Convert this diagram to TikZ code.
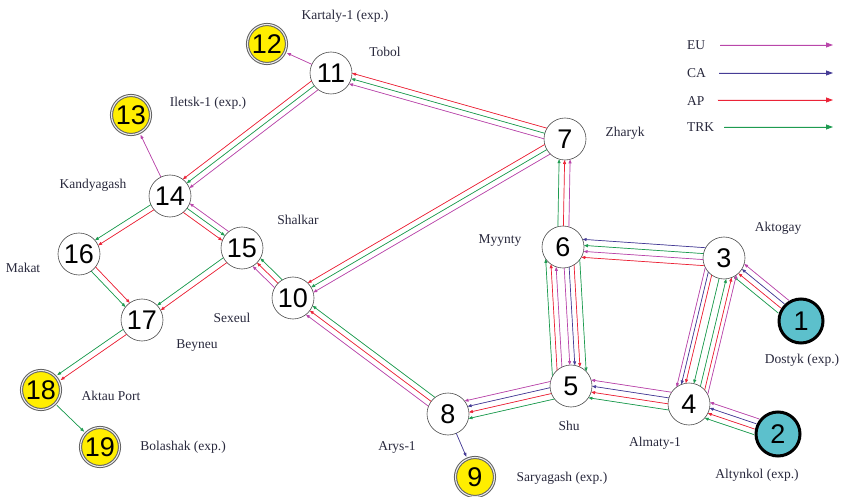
\documentclass[tikz,border=0pt]{standalone}
\usepackage{fontspec}
\setmainfont{Liberation Serif}
\newfontfamily\numfont{Liberation Sans}
\usetikzlibrary{arrows.meta,calc}
\definecolor{EUc}{RGB}{185,70,170}
\definecolor{CAc}{RGB}{70,60,150}
\definecolor{APc}{RGB}{235,35,55}
\definecolor{TRKc}{RGB}{30,155,80}
\definecolor{tealc}{RGB}{92,192,204}
\definecolor{yelc}{RGB}{255,238,0}
\definecolor{lblc}{RGB}{40,40,60}
\tikzset{
  fw/.style={-{Triangle[length=4pt,width=3pt]}},
  bw/.style={{Triangle[length=4pt,width=3pt]}-},
  legarrow/.style={-{Triangle[length=7pt,width=5pt]}, line width=0.8pt},
  eu/.style={draw=EUc, fill=EUc},
  ca/.style={draw=CAc, fill=CAc},
  ap/.style={draw=APc, fill=APc},
  trk/.style={draw=TRKc, fill=TRKc},
  link/.style={line width=0.7pt},
  wnode/.style={circle, draw=gray!60!black, line width=0.6pt, fill=white,
    minimum size=42pt, inner sep=0pt, font=\numfont\fontsize{27}{27}\selectfont},
  ynode/.style={wnode, fill=yelc, draw=gray!75!black, double=gray!15,
    double distance=1.1pt, line width=1pt, minimum size=39pt},
  tnode/.style={wnode, fill=tealc, draw=black, line width=3pt, minimum size=44pt},
  lbl/.style={font=\fontsize{13.5}{14}\selectfont, text=lblc, inner sep=0pt},
}
\newcommand\bundle[5]{%
  \foreach \oo/\cc/\dd in {#5}{%
    \pgfmathsetmacro\shA{sqrt(max(#2*#2-\oo*\oo,1))}%
    \pgfmathsetmacro\shB{sqrt(max(#4*#4-\oo*\oo,1))}%
    \edef\tmpdraw{\noexpand\draw[link,\cc,\dd,shorten <=\shA pt,shorten >=\shB pt]}%
    \tmpdraw ($(#1)!\oo pt!90:(#3)$) -- ($(#3)!\oo pt!-90:(#1)$);
  }%
}
\begin{document}
\begin{tikzpicture}[x=1pt,y=-1pt]
\useasboundingbox (0,0) rectangle (841,497);
% nodes
\node[tnode] (n1) at (801,321) {1};
\node[tnode] (n2) at (778,434) {2};
\node[wnode] (n3) at (724,258) {3};
\node[wnode] (n4) at (689,404) {4};
\node[wnode] (n5) at (571,386) {5};
\node[wnode] (n6) at (563,247) {6};
\node[wnode] (n7) at (565,139) {7};
\node[wnode] (n8) at (448,414) {8};
\node[ynode] (n9) at (475,477) {9};
\node[wnode] (n10) at (293,298) {10};
\node[wnode] (n11) at (331,73) {11};
\node[ynode] (n12) at (267,44) {12};
\node[ynode] (n13) at (131,115) {13};
\node[wnode] (n14) at (170,196) {14};
\node[wnode] (n15) at (242,248) {15};
\node[wnode] (n16) at (79,254) {16};
\node[wnode] (n17) at (142,320) {17};
\node[ynode] (n18) at (41,390) {18};
\node[ynode] (n19) at (100,447) {19};
% connectors
\bundle{n11}{21}{n12}{22}{0/eu/fw}
\bundle{n7}{21}{n11}{21}{-5.5/ap/fw, 0/trk/fw, 5.5/eu/fw}
\bundle{n11}{21}{n14}{21}{-5.5/ap/fw, 0/trk/fw, 5.5/eu/fw}
\bundle{n14}{21}{n13}{22}{0/eu/fw}
\bundle{n14}{21}{n16}{21}{-3/trk/fw, 3/ap/fw}
\bundle{n14}{21}{n15}{21}{-5.5/ap/fw, 0/trk/fw, 5.5/eu/bw}
\bundle{n16}{21}{n17}{21}{-3/trk/fw, 3/ap/fw}
\bundle{n15}{21}{n17}{21}{-3/trk/fw, 3/ap/fw}
\bundle{n17}{21}{n18}{22}{-3/trk/fw, 3/ap/fw}
\bundle{n18}{22}{n19}{22}{0/trk/fw}
\bundle{n10}{21}{n15}{21}{-5.5/trk/fw, 0/ap/fw, 5.5/eu/fw}
\bundle{n7}{21}{n10}{21}{-5.5/ap/fw, 0/trk/fw, 5.5/eu/fw}
\bundle{n8}{21}{n10}{21}{-5.5/trk/fw, 0/ap/fw, 5.5/eu/fw}
\bundle{n8}{21}{n9}{22}{0/ca/fw}
\bundle{n5}{21}{n8}{21}{-9/eu/fw, -3/ca/fw, 3/ap/fw, 9/trk/fw}
\bundle{n4}{21}{n5}{21}{-9/eu/fw, -3/ca/fw, 3/ap/fw, 9/trk/fw}
\bundle{n2}{24}{n4}{21}{-8.25/eu/fw, -2.75/ca/fw, 2.75/ap/fw, 8.25/trk/fw}
\bundle{n1}{24}{n3}{21}{-8.25/eu/fw, -2.75/ca/fw, 2.75/ap/fw, 8.25/trk/fw}
\bundle{n3}{21}{n6}{21}{-9/ca/fw, -3/trk/fw, 3/eu/fw, 9/ap/fw}
\bundle{n6}{21}{n7}{21}{-5.5/eu/fw, 0/ap/fw, 5.5/trk/fw}
\bundle{n6}{21}{n5}{21}{-18/trk/bw, -13/ap/bw, -8/eu/bw, 0/eu/fw, 5/ca/fw, 10/ap/fw, 16/trk/fw}
\bundle{n3}{21}{n4}{21}{-16/eu/fw, -12/ca/fw, -8/ap/fw, 0/trk/fw, 7/trk/bw, 12/ap/bw, 16/eu/bw}
% labels
\node[lbl] (lKartaly) at (345,16) {Kartaly-1 (exp.)};
\node[lbl] (lTobol) at (385,52) {Tobol};
\node[lbl] (lIletsk) at (208,103) {Iletsk-1 (exp.)};
\node[lbl] (lKandy) at (93,185) {Kandyagash};
\node[lbl] (lShalkar) at (298,220) {Shalkar};
\node[lbl] (lMakat) at (23,268) {Makat};
\node[lbl] (lSexeul) at (232,318) {Sexeul};
\node[lbl] (lBeyneu) at (197,346) {Beyneu};
\node[lbl] (lAktau) at (111,396) {Aktau Port};
\node[lbl] (lBolashak) at (183,447) {Bolashak (exp.)};
\node[lbl] (lZharyk) at (625,133) {Zharyk};
\node[lbl] (lMyynty) at (500,241) {Myynty};
\node[lbl] (lAktogay) at (778,228) {Aktogay};
\node[lbl] (lDostyk) at (802,360) {Dostyk (exp.)};
\node[lbl] (lShu) at (569,426) {Shu};
\node[lbl] (lAlmaty) at (655,443) {Almaty-1};
\node[lbl] (lAltynkol) at (757,475) {Altynkol (exp.)};
\node[lbl] (lArys) at (397,447) {Arys-1};
\node[lbl] (lSaryagash) at (562,478) {Saryagash (exp.)};
% legend
\node[lbl, anchor=west] (gEU) at (687,45) {EU};
\node[lbl, anchor=west] (gCA) at (687,73) {CA};
\node[lbl, anchor=west] (gAP) at (687,101) {AP};
\node[lbl, anchor=west] (gTRK) at (687,127) {TRK};
\coordinate (eEU) at (833,45);
\coordinate (eCA) at (833,73);
\coordinate (eAP) at (833,100);
\coordinate (eTRK) at (833,127);
\draw[legarrow, eu] (gEU.east) ++(15,0) -- (eEU);
\draw[legarrow, ca] (gCA.east) ++(13,0) -- (eCA);
\draw[legarrow, ap] (gAP.east) ++(13,-1) -- (eAP);
\draw[legarrow, trk] (gTRK.east) ++(10,0) -- (eTRK);
\end{tikzpicture}
\end{document}
